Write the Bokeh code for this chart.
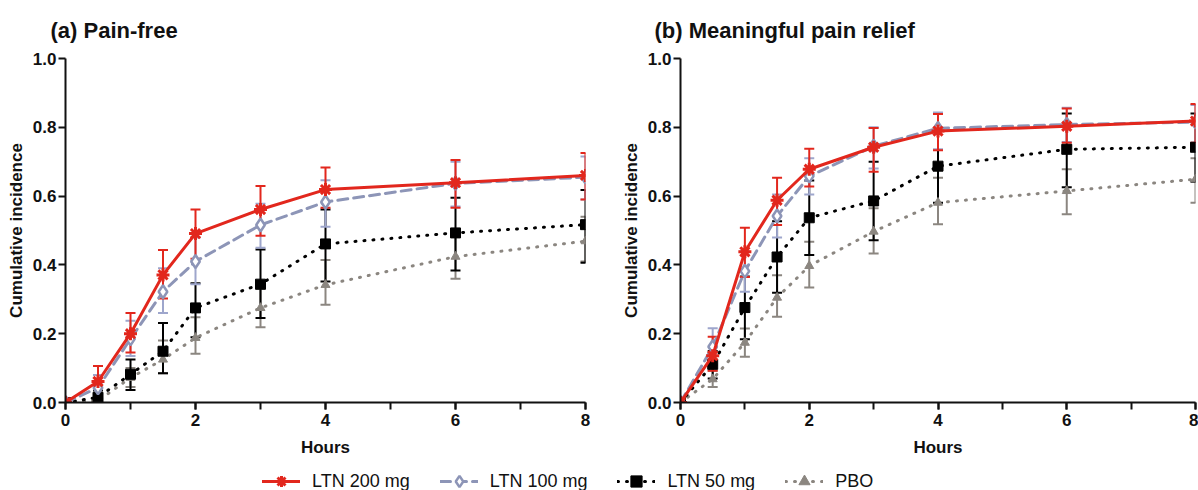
import math
from bokeh.plotting import figure
from bokeh.models import (ColumnDataSource, Whisker, TeeHead, Title, Legend, LegendItem,
                          SingleIntervalTicker, Range1d)
from bokeh.layouts import column, row
from bokeh.embed import file_html
from bokeh.resources import INLINE

hours = [0, 0.5, 1, 1.5, 2, 3, 4, 6, 8]

# (a) Pain-free
ltn200_a = [0, 0.061, 0.200, 0.371, 0.491, 0.561, 0.619, 0.639, 0.660]
ltn200_a_lo = [0, 0.020, 0.145, 0.302, 0.418, 0.485, 0.566, 0.566, 0.590]
ltn200_a_hi = [0, 0.106, 0.260, 0.443, 0.561, 0.629, 0.683, 0.705, 0.725]
ltn100_a = [0, 0.043, 0.185, 0.322, 0.410, 0.516, 0.583, 0.637, 0.655]
ltn100_a_lo = [0, 0.010, 0.135, 0.260, 0.344, 0.450, 0.511, 0.570, 0.590]
ltn100_a_hi = [0, 0.080, 0.238, 0.390, 0.480, 0.578, 0.646, 0.700, 0.715]
ltn50_a = [0, 0.015, 0.082, 0.149, 0.275, 0.344, 0.461, 0.493, 0.517]
ltn50_a_lo = [0, 0.000, 0.036, 0.085, 0.190, 0.246, 0.352, 0.384, 0.406]
ltn50_a_hi = [0, 0.035, 0.125, 0.231, 0.347, 0.445, 0.561, 0.595, 0.618]
pbo_a = [0, 0.005, 0.072, 0.125, 0.188, 0.275, 0.342, 0.424, 0.469]
pbo_a_lo = [0, 0.000, 0.045, 0.085, 0.142, 0.219, 0.284, 0.360, 0.410]
pbo_a_hi = [0, 0.020, 0.100, 0.180, 0.248, 0.330, 0.414, 0.490, 0.540]

# (b) Meaningful pain relief
ltn200_b = [0, 0.136, 0.438, 0.588, 0.678, 0.742, 0.789, 0.803, 0.818]
ltn200_b_lo = [0, 0.092, 0.365, 0.516, 0.628, 0.671, 0.733, 0.755, 0.755]
ltn200_b_hi = [0, 0.191, 0.508, 0.653, 0.738, 0.798, 0.839, 0.855, 0.868]
ltn100_b = [0, 0.162, 0.382, 0.542, 0.658, 0.745, 0.797, 0.808, 0.815]
ltn100_b_lo = [0, 0.110, 0.322, 0.480, 0.605, 0.680, 0.736, 0.757, 0.755]
ltn100_b_hi = [0, 0.216, 0.440, 0.605, 0.710, 0.800, 0.843, 0.857, 0.865]
ltn50_b = [0, 0.111, 0.276, 0.423, 0.537, 0.586, 0.687, 0.736, 0.742]
ltn50_b_lo = [0, 0.070, 0.184, 0.319, 0.429, 0.472, 0.581, 0.626, 0.642]
ltn50_b_hi = [0, 0.150, 0.366, 0.527, 0.645, 0.700, 0.790, 0.840, 0.840]
pbo_b = [0, 0.068, 0.174, 0.305, 0.397, 0.497, 0.581, 0.615, 0.649]
pbo_b_lo = [0, 0.045, 0.133, 0.249, 0.334, 0.433, 0.518, 0.547, 0.581]
pbo_b_hi = [0, 0.092, 0.215, 0.370, 0.467, 0.565, 0.653, 0.678, 0.710]

labels = ["LTN 200 mg", "LTN 100 mg", "LTN 50 mg", "PBO"]

FONT = "Liberation Sans"
RED = "#e2271d"
BLUE = "#8d95b7"
BLUE_ERR = "#9ea6cc"
BLACK = "#000000"
GRAY = "#8b8680"

styles = {
    "LTN 200 mg": dict(color=RED, err=RED, dash="solid", lw=3, marker="asterisk",
                       size=13, fill=RED, mlw=3, angle=math.pi / 2),
    "LTN 100 mg": dict(color=BLUE, err=BLUE_ERR, dash="10 6", lw=3, marker="diamond",
                       size=13, fill="white", mlw=2.5, angle=0),
    "LTN 50 mg": dict(color=BLACK, err=BLACK, dash="1 8", lw=3, marker="square",
                      size=10, fill=BLACK, mlw=1, angle=0),
    "PBO": dict(color=GRAY, err=GRAY, dash="1 8", lw=3, marker="triangle",
                size=9, fill=GRAY, mlw=1, angle=0),
}


def make_panel(title, series, width, border_left, border_right, title_offset):
    p = figure(width=width, height=468, output_backend="svg", toolbar_location=None,
               x_range=Range1d(0, 8), y_range=Range1d(0, 1.0),
               min_border_left=border_left, min_border_right=border_right,
               min_border_top=56, min_border_bottom=66)
    p.outline_line_color = None
    p.grid.visible = False
    t = Title(text=title, align="left", offset=title_offset, standoff=31,
              text_font=FONT, text_font_size="22px", text_font_style="bold",
              text_color="#111111")
    p.add_layout(t, "above")
    p.xaxis.ticker = SingleIntervalTicker(interval=2, num_minor_ticks=2)
    p.yaxis.ticker = SingleIntervalTicker(interval=0.2, num_minor_ticks=0)
    p.yaxis.major_label_overrides = {0: "0.0", 0.2: "0.2", 0.4: "0.4", 0.6: "0.6",
                                     0.8: "0.8", 1: "1.0"}
    for ax in (p.xaxis[0], p.yaxis[0]):
        ax.axis_line_width = 2
        ax.axis_line_color = "#111111"
        ax.major_tick_line_width = 2
        ax.minor_tick_line_width = 2
        ax.major_tick_line_color = "#111111"
        ax.minor_tick_line_color = "#111111"
        ax.major_tick_in = 0
        ax.major_tick_out = 7
        ax.minor_tick_in = 0
        ax.minor_tick_out = 7
        ax.major_label_text_font = FONT
        ax.major_label_text_font_size = "17px"
        ax.major_label_text_font_style = "bold"
        ax.major_label_text_color = "#111111"
        ax.axis_label_text_font = FONT
        ax.axis_label_text_font_size = "17px"
        ax.axis_label_text_font_style = "bold"
        ax.axis_label_text_color = "#111111"
    p.xaxis.axis_label = "Hours"
    p.yaxis.axis_label = "Cumulative incidence"
    p.yaxis.major_label_standoff = 2
    p.yaxis.axis_label_standoff = 4
    p.xaxis.major_label_standoff = 4
    p.xaxis.axis_label_standoff = 9

    for name in reversed(labels):
        y, lo, hi = series[name]
        st = styles[name]
        src = ColumnDataSource(dict(x=hours, y=y, lo=lo, hi=hi))
        w = Whisker(source=src, base="x", upper="hi", lower="lo", dimension="height",
                    line_color=st["err"], line_width=2,
                    upper_head=TeeHead(size=10, line_color=st["err"], line_width=2),
                    lower_head=TeeHead(size=10, line_color=st["err"], line_width=2))
        p.add_layout(w)
        p.line("x", "y", source=src, line_color=st["color"], line_width=st["lw"],
               line_dash=st["dash"], line_cap="round")
        p.scatter("x", "y", source=src, marker=st["marker"], size=st["size"],
                  fill_color=st["fill"], line_color=st["color"], line_width=st["mlw"],
                  angle=st["angle"])
    return p


series_a = {
    "LTN 200 mg": (ltn200_a, ltn200_a_lo, ltn200_a_hi),
    "LTN 100 mg": (ltn100_a, ltn100_a_lo, ltn100_a_hi),
    "LTN 50 mg": (ltn50_a, ltn50_a_lo, ltn50_a_hi),
    "PBO": (pbo_a, pbo_a_lo, pbo_a_hi),
}
series_b = {
    "LTN 200 mg": (ltn200_b, ltn200_b_lo, ltn200_b_hi),
    "LTN 100 mg": (ltn100_b, ltn100_b_lo, ltn100_b_hi),
    "LTN 50 mg": (ltn50_b, ltn50_b_lo, ltn50_b_hi),
    "PBO": (pbo_b, pbo_b_lo, pbo_b_hi),
}

pa = make_panel("(a) Pain-free", series_a, 618, 65, 33, -15)
pb = make_panel("(b) Meaningful pain relief", series_b, 580, 60, 3, -26)

# legend strip: its renderers hold the panel (a) series but sit outside the visible range
pl = figure(width=1198, height=22, output_backend="svg", toolbar_location=None,
            x_range=Range1d(100, 101), y_range=Range1d(100, 101),
            min_border_left=0, min_border_right=0, min_border_top=0, min_border_bottom=0)
pl.axis.visible = False
pl.grid.visible = False
pl.outline_line_color = None
items = []
for name in labels:
    st = styles[name]
    y = series_a[name][0]
    r1 = pl.line(x=hours, y=y, line_color=st["color"], line_width=st["lw"],
                 line_dash=st["dash"], line_cap="round")
    r2 = pl.scatter(x=hours, y=y, marker=st["marker"], size=st["size"],
                    fill_color=st["fill"], line_color=st["color"], line_width=st["mlw"],
                    angle=st["angle"])
    items.append(LegendItem(label=name, renderers=[r1, r2]))
leg = Legend(items=items, orientation="horizontal", location=(262, -5),
             glyph_width=38, glyph_height=28, label_standoff=12, spacing=30,
             label_text_font=FONT, label_text_font_size="18px",
             label_text_color="#111111", border_line_color=None,
             background_fill_alpha=0, padding=0, margin=0)
pl.add_layout(leg, "center")

layout = column(row(pa, pb), pl)
open("out.html", "w").write(file_html(layout, INLINE))
